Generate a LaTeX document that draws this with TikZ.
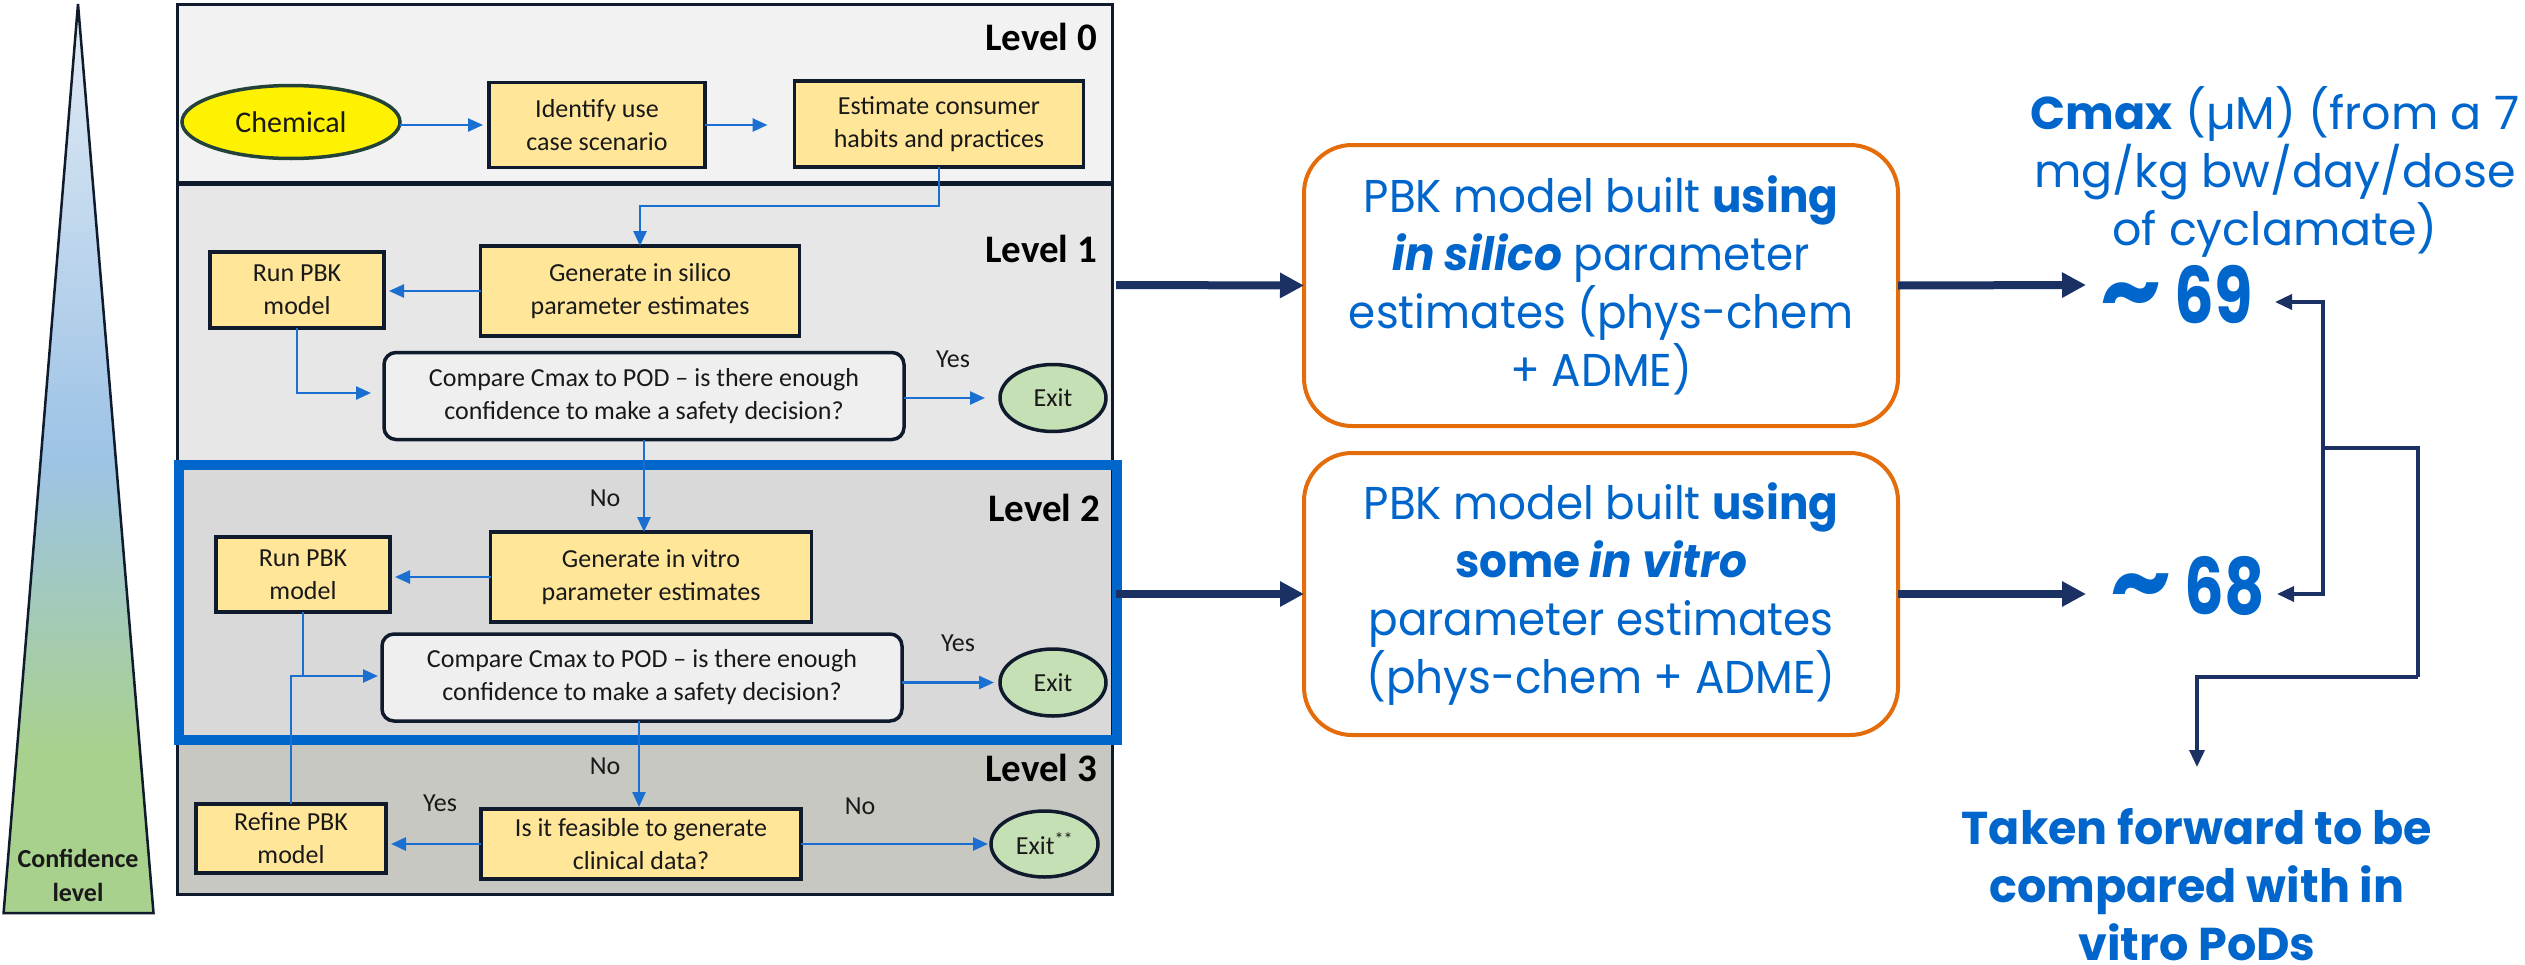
\documentclass[tikz,border=0pt]{standalone}
\usepackage{fontspec}
\setmainfont{Carlito}
\newfontfamily\gothic{Poppins}
\newfontfamily\gothicbox[FakeStretch=0.95]{Poppins}
\newfontfamily\gothicnum[FakeStretch=0.8]{Poppins}
\usetikzlibrary{arrows.meta,shapes.geometric}

\definecolor{inkdark}{HTML}{0F1B2D}
\definecolor{boxyellow}{HTML}{FFE699}
\definecolor{exitgreen}{HTML}{C5E0B4}
\definecolor{cmpfill}{HTML}{EFEFEF}
\definecolor{flowblue}{HTML}{1A6FD0}
\definecolor{navy}{HTML}{1B3163}
\definecolor{textblue}{HTML}{0066CC}
\definecolor{framered}{HTML}{E46C0A}
\definecolor{lvlA}{HTML}{F2F2F2}
\definecolor{lvlB}{HTML}{E7E7E7}
\definecolor{lvlC}{HTML}{D9D9D9}
\definecolor{lvlD}{HTML}{C8C8C2}
\definecolor{chemborder}{HTML}{23423A}
\definecolor{conftop}{HTML}{E2EBF4}
\definecolor{confblue}{HTML}{9DC3E6}
\definecolor{confgreen}{HTML}{A9D18E}

% wedge colouring: green at the base, strongest blue half way up, pale at the apex
\pgfdeclareverticalshading{confwedge}{100bp}{color(0bp)=(confgreen); color(25bp)=(confgreen);
  color(34bp)=(confgreen); color(50bp)=(confblue); color(75bp)=(conftop); color(100bp)=(conftop)}

% approximate sign set a little larger than the digits beside it
\newcommand{\approxsign}{{\gothic\bfseries\fontsize{96}{80}\selectfont\char"007E}}

\begin{document}
\begin{tikzpicture}[x=1pt,y=-1pt,
  every node/.style={inner sep=0pt, outer sep=0pt},
  lbl/.style={font=\fontsize{26}{32}\selectfont, text=black!90},
  yellowbox/.style={rectangle, draw=inkdark, line width=3.5, fill=boxyellow,
    align=center, font=\fontsize{26}{33}\selectfont, text=black!90},
  cmpbox/.style={rectangle, rounded corners=12, draw=inkdark, line width=3.5, fill=cmpfill,
    align=center, font=\fontsize{26}{33}\selectfont, text=black!90,
    minimum width=520, minimum height=87},
  exitnode/.style={ellipse, draw=inkdark, line width=3.5, fill=exitgreen,
    font=\fontsize{26}{32}\selectfont, text=black!90,
    minimum width=106, minimum height=67},
  levellabel/.style={anchor=east, font=\bfseries\fontsize{39}{44}\selectfont, text=black},
  flow/.style={draw=flowblue, line width=2.5, -{Triangle[length=15,width=13]}},
  flowline/.style={draw=flowblue, line width=2.5},
  bigarrow/.style={draw=navy, line width=8, -{Triangle[length=24,width=24]}},
  fbline/.style={draw=navy, line width=3.5},
  fbarrow/.style={draw=navy, line width=3.5, -{Triangle[length=17,width=15]}},
  pbkbox/.style={rectangle, rounded corners=48, draw=framered, line width=4, fill=white,
    align=center, text=textblue, font=\gothicbox\fontsize{46}{58}\selectfont,
    minimum width=594, minimum height=281},
  bluetext/.style={align=center, text=textblue, font=\gothic\fontsize{46}{58}\selectfont},
  valuetext/.style={text=textblue, font=\gothicnum\bfseries\fontsize{78}{80}\selectfont}
]
\useasboundingbox (0,0) rectangle (2525,964);

% confidence wedge
\shadedraw[shading=confwedge, draw=inkdark, line width=2.5]
  (78,4) -- (3.6,913) -- (153.5,913) -- cycle;
\node[align=center, font=\bfseries\fontsize{26}{34}\selectfont, text=black!90] (conf) at (78,875) {Confidence\\level};

% level bands
\fill[lvlA] (177,4) rectangle (1112,183);
\fill[lvlB] (177,183) rectangle (1112,465);
\fill[lvlC] (177,465) rectangle (1112,740);
\fill[lvlD] (177,740) rectangle (1112,894);
\draw[inkdark, line width=3] (177,4) rectangle (1112,894);
\draw[inkdark, line width=5] (177,183) -- (1112,183);
\draw[textblue, line width=10] (179,465) rectangle (1117,740);

\node[levellabel] (lv0) at (1097,37) {Level 0};
\node[levellabel] (lv1) at (1097,249) {Level 1};
\node[levellabel] (lv2) at (1100,508) {Level 2};
\node[levellabel] (lv3) at (1097,768) {Level 3};

% level 0
\node[ellipse, draw=chemborder, line width=3.5, fill=yellow, minimum width=218, minimum height=73,
  font=\fontsize{30}{34}\selectfont, text=black!90] (chem) at (291,122) {Chemical};
\node[yellowbox, minimum width=216, minimum height=85] (ident) at (597,125) {Identify use\\case scenario};
\node[yellowbox, minimum width=289, minimum height=86] (estim) at (939,124) {Estimate consumer\\habits and practices};

% level 1
\node[yellowbox, minimum width=319, minimum height=90] (gen1) at (640,291) {Generate in silico\\parameter estimates};
\node[yellowbox, minimum width=174, minimum height=76] (run1) at (297,290) {Run PBK\\model};
\node[cmpbox] (cmp1) at (644,396) {Compare Cmax to POD -- is there enough\\confidence to make a safety decision?};
\node[exitnode] (exit1) at (1053,398) {Exit};

% level 2
\node[yellowbox, minimum width=321, minimum height=90] (gen2) at (651,577) {Generate in vitro\\parameter estimates};
\node[yellowbox, minimum width=174, minimum height=75] (run2) at (303,574.5) {Run PBK\\model};
\node[cmpbox] (cmp2) at (642,677.5) {Compare Cmax to POD -- is there enough\\confidence to make a safety decision?};
\node[exitnode] (exit2) at (1053,682.5) {Exit};

% level 3
\node[yellowbox, minimum width=320, minimum height=70] (feas) at (641,844) {Is it feasible to generate\\clinical data?};
\node[yellowbox, minimum width=190, minimum height=69] (refine) at (291,838.5) {Refine PBK\\model};
\node[exitnode, minimum width=107, minimum height=66] (exit3) at (1044.5,844) {Exit\textsuperscript{**}};

% flow connectors
\draw[flow, shorten >=6] (chem.east |- ident.west) -- (ident.west);
\draw[flow, shorten >=27] (ident.east) -- (estim.west |- ident.east);
\draw[flow] (estim.south) -- (939,206) -| (gen1.north);
\draw[flow, shorten >=5] (gen1.west) -- (run1.east |- gen1.west);
\draw[flow, shorten >=13] (run1.south) |- (cmp1.west |- 0,393);
\draw[flow, shorten >=15] (cmp1.east |- exit1.west) -- (exit1.west);
\draw[flow] (cmp1.south) -- (cmp1.south |- gen2.north);
\draw[flow, shorten >=5] (gen2.west) -- (run2.east |- gen2.west);
\coordinate (join) at (303,676);
\draw[flowline] (run2.south) -- (join);
\draw[flow, shorten >=4] (refine.north) |- (cmp2.west |- join);
\draw[flow, shorten >=6] (cmp2.east |- exit2.west) -- (exit2.west);
\draw[flow] (cmp2.south -| 639,0) -- (639,807);
\draw[flow, shorten >=5] (feas.west) -- (refine.east |- feas.west);
\draw[flow, shorten >=3] (feas.east) -- (exit3.west);

\node[lbl] (yes1) at (953,359) {Yes};
\node[lbl] (no1) at (605,498) {No};
\node[lbl] (yes2) at (958,643) {Yes};
\node[lbl] (no2) at (605,766) {No};
\node[lbl] (yes3) at (440,803) {Yes};
\node[lbl] (no3) at (860,806) {No};

% model variants
\coordinate (outA) at (1116,285);
\coordinate (outB) at (1116,594);
\node[pbkbox] (boxA) at (1601,285.5) {PBK model built \textbf{using}\\\textbf{\textit{in silico}} parameter\\estimates (phys-chem\\+ ADME)};
\node[pbkbox, minimum height=282] (boxB) at (1601,594) {PBK model built \textbf{using}\\\textbf{some \textit{in vitro}}\\parameter estimates\\(phys-chem + ADME)};
\draw[bigarrow] (outA) -- (boxA.west);
\draw[bigarrow] (outB) -- (boxB.west);

\node[valuetext, anchor=west] (v69) at (2100,295) {\approxsign\ 69};
\node[valuetext, anchor=west] (v68) at (2110,586) {\approxsign\ 68};
\coordinate (tipA) at (2086,285);
\coordinate (tipB) at (2086,594);
\draw[bigarrow] (boxA.east) -- (tipA);
\draw[bigarrow] (boxB.east) -- (tipB);

\node[bluetext] (cmax) at (2275,172) {\textbf{Cmax} (µM) (from a 7\\mg/kg bw/day/dose\\of cyclamate)};

% feedback bracket
\coordinate (fbA) at (2275,302);
\coordinate (fbB) at (2277,594);
\coordinate (fbTop) at (2323,448);
\coordinate (fbRight) at (2418,448);
\coordinate (fbLow) at (2418,677);
\coordinate (fbEnd) at (2197,767);
\draw[fbarrow] (fbTop) |- (fbA);
\draw[fbarrow] (fbTop) |- (fbB);
\draw[fbline] (fbTop) -- (fbRight) -- (fbLow);
\draw[fbarrow] (fbLow) -| (fbEnd);

\node[bluetext, font=\gothic\bfseries\fontsize{46}{58}\selectfont] (fwd) at (2197,885) {Taken forward to be\\compared with in\\vitro PoDs};
\end{tikzpicture}
\end{document}
